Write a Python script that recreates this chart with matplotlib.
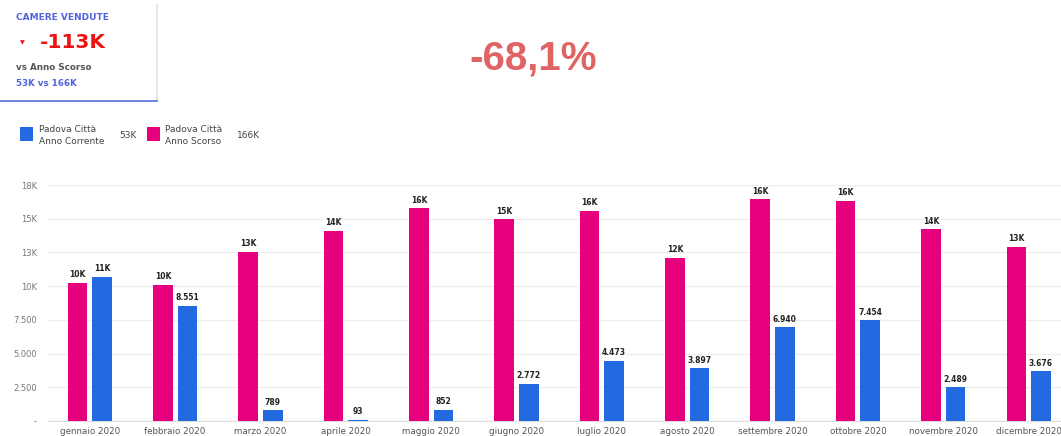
import numpy as np
import matplotlib
matplotlib.use("Agg")
from matplotlib import pyplot as plt
from matplotlib.patches import Rectangle

# data
months = ["gennaio 2020", "febbraio 2020", "marzo 2020", "aprile 2020",
          "maggio 2020", "giugno 2020", "luglio 2020", "agosto 2020",
          "settembre 2020", "ottobre 2020", "novembre 2020", "dicembre 2020"]
anno_scorso = [10230, 10080, 12550, 14090, 15770, 14955, 15600, 12110,
               16440, 16340, 14215, 12900]
anno_corrente = [10700, 8551, 789, 93, 852, 2772, 4473, 3897,
                 6940, 7454, 2489, 3676]
y_ticks = [0, 2500, 5000, 7500, 10000, 12500, 15000, 17500]

PINK = "#E6007E"
BLUE = "#2369DF"
W, H = 1061, 436


def fmt(v):
    # compact labels: K above 10k, dotted thousands below
    if v == 0:
        return "-"
    if v >= 9500:
        return "%dK" % int(v / 1000 + 0.5)
    return "{:,}".format(int(v)).replace(",", ".")


def px(x, y):
    return x / W, 1 - y / H


fig = plt.figure(figsize=(W / 100, H / 100), dpi=100)
fig.patch.set_facecolor("white")

# main bar chart
ax = fig.add_axes([48 / W, 15 / H, 1 - 48 / W, (421 - 185) / H])
x = np.arange(len(months))
bw = 0.229
off = 0.144
ax.bar(x - off, anno_scorso, bw, color=PINK, zorder=3)
ax.bar(x + off, anno_corrente, bw, color=BLUE, zorder=3)
for i in range(len(months)):
    ax.text(x[i] - off, anno_scorso[i] + 280, fmt(anno_scorso[i]), ha="center",
            va="bottom", fontsize=5.5, fontweight="bold", color="#222222")
    ax.text(x[i] + off, anno_corrente[i] + 280, fmt(anno_corrente[i]), ha="center",
            va="bottom", fontsize=5.5, fontweight="bold", color="#222222")

ax.set_xlim(-0.49, 11.38)
ax.set_ylim(0, 17500)
ax.set_yticks(y_ticks)
ax.set_yticklabels([fmt(t) for t in y_ticks], fontsize=6, color="#777777")
ax.set_xticks(x)
ax.set_xticklabels(months, fontsize=6.3, color="#555555")
ax.tick_params(length=0, pad=4)
ax.tick_params(axis="y", pad=8)
ax.grid(axis="y", color="#EEEEEE", linewidth=0.9, zorder=0)
for s in ["top", "right", "left"]:
    ax.spines[s].set_visible(False)
ax.spines["bottom"].set_color("#DDDDDD")

# scorecard top left
fig.add_artist(plt.Line2D([157 / W, 157 / W], [1 - 5 / H, 1 - 100 / H],
                          transform=fig.transFigure, color="#E6E6E6", lw=1.5))
fig.add_artist(plt.Line2D([0, 157 / W], [1 - 101 / H, 1 - 101 / H],
                          transform=fig.transFigure, color="#5470D8", lw=1.2))
fig.text(*px(16, 18), "CAMERE VENDUTE", fontsize=6.5, fontweight="bold",
         color="#4F63E0", va="center")
fig.text(*px(22, 43), "\u25BC", fontsize=4.5, color="#EE1111", ha="center", va="center")
fig.text(*px(40, 43), "-113K", fontsize=14.5, fontweight="bold", color="#EE1111",
         va="center")
fig.text(*px(16, 67), "vs Anno Scorso", fontsize=6.3, fontweight="bold",
         color="#555555", va="center")
fig.text(*px(16, 84), "53K vs 166K", fontsize=6.3, fontweight="bold",
         color="#4F63E0", va="center")

# big percentage
fig.text(*px(533, 59), "-68,1%", fontsize=29, fontweight="bold", color="#E06464",
         ha="center", va="center", family="Liberation Sans")

# legend
fig.add_artist(Rectangle(px(20, 141), 13 / W, 14 / H, transform=fig.transFigure,
                         facecolor=BLUE, edgecolor="none"))
fig.text(*px(39, 129), "Padova Città", fontsize=6.5, color="#444444", va="center")
fig.text(*px(39, 142), "Anno Corrente", fontsize=6.5, color="#444444", va="center")
fig.text(*px(119, 136), "53K", fontsize=6.5, color="#444444", va="center")
fig.add_artist(Rectangle(px(147, 141), 13 / W, 14 / H, transform=fig.transFigure,
                         facecolor=PINK, edgecolor="none"))
fig.text(*px(165, 129), "Padova Città", fontsize=6.5, color="#444444", va="center")
fig.text(*px(165, 142), "Anno Scorso", fontsize=6.5, color="#444444", va="center")
fig.text(*px(237, 136), "166K", fontsize=6.5, color="#444444", va="center")

fig.savefig("out.png", dpi=100, facecolor="white")
